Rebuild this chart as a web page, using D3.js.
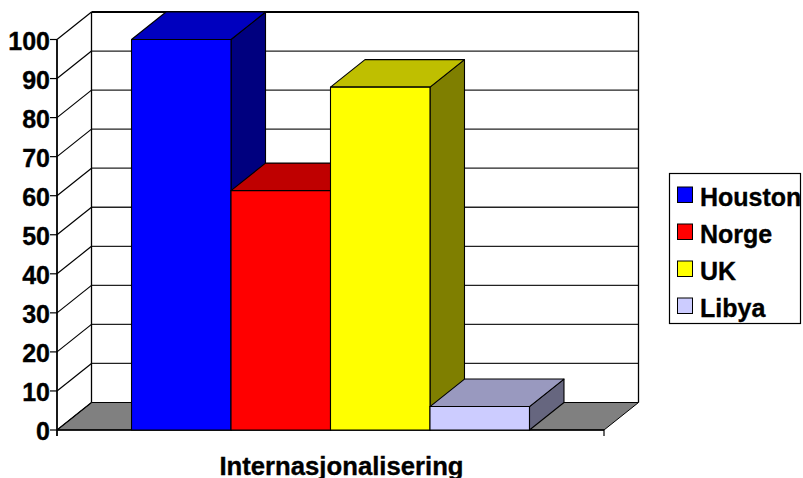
<!DOCTYPE html>
<html>
<head>
<meta charset="utf-8">
<script src="https://cdnjs.cloudflare.com/ajax/libs/d3/7.8.5/d3.min.js"></script>
<style>
html,body{margin:0;padding:0;background:#fff}
svg{display:block}
text{font-family:"Liberation Sans",Arial,sans-serif;font-weight:700;fill:#000;stroke:#000;stroke-width:0.35px}
</style>
</head>
<body>
<svg id="chart" width="803" height="478"></svg>
<script>
// Series of the single category, with front / top / side shades
const seriesNames = ["Houston", "Norge", "UK", "Libya"];
const seriesValues = [100, 61.3, 87.8, 6];
const frontColors = ["#0000ff", "#ff0000", "#ffff00", "#ccccff"];
const topColors = ["#0000bf", "#bf0000", "#bfbf00", "#9999bf"];
const sideColors = ["#00007f", "#7f0000", "#7f7f00", "#66667f"];
const yTicks = [0, 10, 20, 30, 40, 50, 60, 70, 80, 90, 100];
const categoryTitle = "Internasjonalisering";

const svg = d3.select("#chart");
const depthX = 34.5, depthY = -27.5;

const x = d3.scaleBand().domain(seriesNames).range([57, 604])
  .paddingInner(0).paddingOuter(0.749);
const y = d3.scaleLinear().domain([0, 100]).range([430, 39.5]);

const poly = (pts, fill, stroke, sw) => svg.append("polygon")
  .attr("points", pts.map(p => p.join(",")).join(" "))
  .attr("fill", fill).attr("stroke", stroke).attr("stroke-width", sw)
  .attr("stroke-linejoin", "round");
const line = (x1, y1, x2, y2, sw, stroke = "#000") => svg.append("line")
  .attr("x1", x1).attr("y1", y1).attr("x2", x2).attr("y2", y2)
  .attr("stroke", stroke).attr("stroke-width", sw);

const [x0, x1] = x.range();

// Floor of the plot box
poly([[x0, y(0)], [x1, y(0)], [x1 + depthX, y(0) + depthY], [x0 + depthX, y(0) + depthY]], "#808080", "#000", 1);

// Grid on the back and left walls
yTicks.forEach(t => {
  const yy = y(t);
  if (t > 0) line(x0 + depthX, yy + depthY, x1 + depthX, yy + depthY, t === 100 ? 2 : 1.3, t === 100 ? "#000" : "#222");
  line(x0, yy, x0 + depthX, yy + depthY, 1.2);
});
line(x0 + depthX, y(100) + depthY, x0 + depthX, y(0) + depthY, 1.3);
line(x1 + depthX, y(100) + depthY, x1 + depthX, y(0) + depthY, 1.3);

// Value axis and tick labels
line(x0, y(100), x0, y(0) + 6, 1.8);
svg.append("g").selectAll("text").data(yTicks).join("text")
  .attr("x", 50).attr("y", d => y(d) + 1)
  .attr("dy", "0.36em").attr("text-anchor", "end")
  .attr("font-size", 25).text(d => d);
yTicks.forEach(t => line(x0 - 7, y(t), x0, y(t), 1.2));

// Category axis
line(x0, y(0), x1, y(0), 1.6);
line(x1, y(0), x1, y(0) + 6, 1.2);
svg.append("text").attr("x", 341.5).attr("y", 474.5)
  .attr("text-anchor", "middle").attr("font-size", 25.7).text(categoryTitle);

// Bars as extruded boxes, painted left to right so later ones overlap earlier sides
seriesNames.forEach((name, i) => {
  const l = x(name), r = l + x.bandwidth(), t = y(seriesValues[i]), b = y(0);
  poly([[r, t], [r + depthX, t + depthY], [r + depthX, b + depthY], [r, b]], sideColors[i], "#000", 1.1);
  poly([[l, t], [r, t], [r + depthX, t + depthY], [l + depthX, t + depthY]], topColors[i], "#000", 1.1);
  poly([[l, t], [r, t], [r, b], [l, b]], frontColors[i], "#000", 1.1);
});

// Legend
svg.append("rect").attr("x", 669.5).attr("y", 173.5).attr("width", 131).attr("height", 150)
  .attr("fill", "#fff").attr("stroke", "#000").attr("stroke-width", 1.2);
const legendY = d3.scalePoint().domain(seriesNames).range([195, 306]);
seriesNames.forEach((name, i) => {
  svg.append("rect").attr("x", 677.5).attr("y", legendY(name) - 8).attr("width", 15).attr("height", 15.5)
    .attr("fill", frontColors[i]).attr("stroke", "#000").attr("stroke-width", 1);
  svg.append("text").attr("x", 700).attr("y", legendY(name) + 11)
    .attr("font-size", 25).text(name);
});
</script>
</body>
</html>
